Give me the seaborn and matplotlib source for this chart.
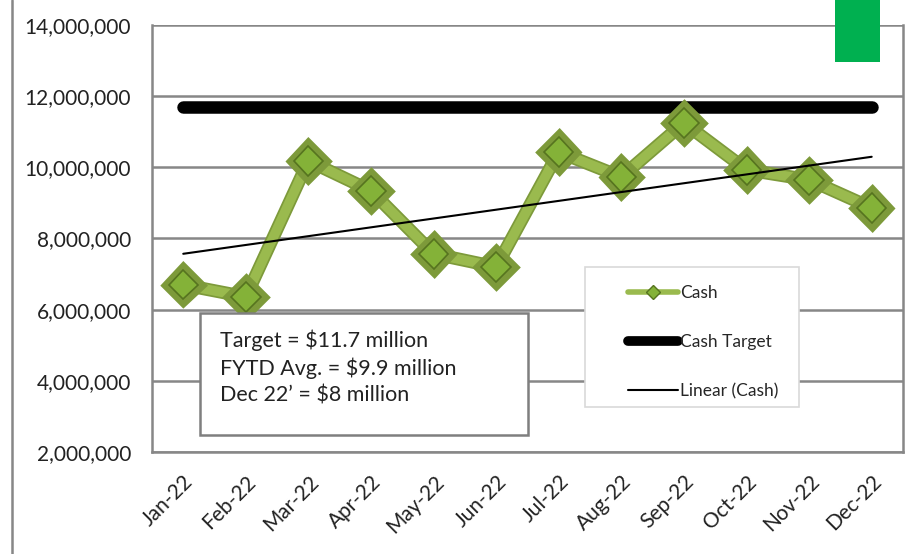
import matplotlib
matplotlib.use("Agg")
import matplotlib.pyplot as plt
import matplotlib.patheffects as pe
from matplotlib.lines import Line2D
from matplotlib.patches import Rectangle
import numpy as np
import pandas as pd
import seaborn as sns

months = ['Jan-22', 'Feb-22', 'Mar-22', 'Apr-22', 'May-22', 'Jun-22',
          'Jul-22', 'Aug-22', 'Sep-22', 'Oct-22', 'Nov-22', 'Dec-22']
cash = [6.70, 6.36, 10.18, 9.34, 7.57, 7.20, 10.43, 9.73, 11.25, 9.93, 9.65, 8.86]
cash = [c * 1e6 for c in cash]
cash_target = 11.7e6
note_lines = ['Target = $11.7 million', 'FYTD Avg. = $9.9 million', "Dec 22\u2019 = $8 million"]
y_ticks = [2e6, 4e6, 6e6, 8e6, 10e6, 12e6, 14e6]

df = pd.DataFrame({'month': months, 'pos': np.arange(len(months)), 'cash': cash})
df['target'] = cash_target
# linear trend, like Excel's "Linear (Cash)"
slope, icpt = np.polyfit(df['pos'], df['cash'], 1)
df['trend'] = icpt + slope * df['pos']

sns.set_style('white')
plt.rcParams['font.family'] = ['Lato', 'DejaVu Sans']

fig = plt.figure(figsize=(9.11, 5.54), dpi=100)
ax = fig.add_axes([0.1668, 0.1841, 0.8244, 0.7708])

grid_c = '#878787'
for y in y_ticks:
    ax.axhline(y, color=grid_c, lw=1.8, zorder=0)

sns.lineplot(data=df, x='pos', y='target', ax=ax, color='black', lw=9,
             solid_capstyle='round', zorder=2)
line = sns.lineplot(data=df, x='pos', y='cash', ax=ax, color='#9aba4e', lw=7,
                    marker='D', markersize=15, markerfacecolor='#84b238',
                    markeredgecolor='#56741f', markeredgewidth=1.2, zorder=3).lines[-1]
line.set_path_effects([pe.Stroke(linewidth=9.5, foreground='#7d9a3a'), pe.Normal()])
sns.lineplot(data=df, x='pos', y='trend', ax=ax, color='black', lw=1.5, zorder=4)

ax.set_xlim(-0.5, len(months) - 0.5)
ax.set_ylim(2e6, 14e6)
ax.set_yticks(y_ticks)
ax.set_yticklabels([f'{int(v):,}' for v in y_ticks], fontsize=15, color='#222222')
ax.set_xticks(np.arange(-0.5, len(months)), minor=False)
ax.set_xticklabels([])
ax.set_xticks(np.arange(len(months)), minor=True)
ax.set_xticklabels(months, minor=True, rotation=45, ha='right',
                   rotation_mode='anchor', fontsize=15, color='#222222')
ax.tick_params(axis='x', which='major', length=7, width=1.5, color=grid_c, direction='out')
ax.tick_params(axis='x', which='minor', length=0, pad=14)
ax.tick_params(axis='y', length=7, width=1.5, color=grid_c, direction='out', pad=8)
ax.set_xlabel('')
ax.set_ylabel('')
for s in ['left', 'bottom', 'right']:
    ax.spines[s].set_color(grid_c)
    ax.spines[s].set_linewidth(1.8)
ax.spines['top'].set_visible(False)

# note box
ax.add_patch(Rectangle((0.064, 0.040), 0.437, 0.286, transform=ax.transAxes,
                       facecolor='white', edgecolor='#7f7f7f', lw=1.8, zorder=5))
ax.text(0.091, 0.287, '\n'.join(note_lines), transform=ax.transAxes, va='top',
        ha='left', fontsize=15.5, color='#222222', linespacing=1.4, zorder=6)

# legend box, frame drawn separately
ax.add_patch(Rectangle((0.577, 0.105), 0.284, 0.328, transform=ax.transAxes,
                       facecolor='white', edgecolor='#d9d9d9', lw=1.2, zorder=5))
handles = [
    Line2D([], [], color='#9aba4e', lw=4, marker='D', markersize=7,
           markerfacecolor='#84b238', markeredgecolor='#56741f'),
    Line2D([], [], color='black', lw=7, solid_capstyle='round'),
    Line2D([], [], color='black', lw=1.5),
]
leg = ax.legend(handles, ['Cash', 'Cash Target', 'Linear (Cash)'], loc='upper left',
                bbox_to_anchor=(0.634, 0.391), fontsize=12.5, frameon=False,
                borderpad=0, labelspacing=1.9, handlelength=2.9, handletextpad=0.1,
                borderaxespad=0)
leg.set_zorder(6)

# decoration from the page: left border and green tab
fig.add_artist(Line2D([0.0132, 0.0132], [0, 1], color=grid_c, lw=1.8))
fig.add_artist(Rectangle((835 / 911, 1 - 62 / 554), 45 / 911, 62 / 554,
                         facecolor='#00b050', edgecolor='none'))

fig.savefig('out.png', dpi=100)
